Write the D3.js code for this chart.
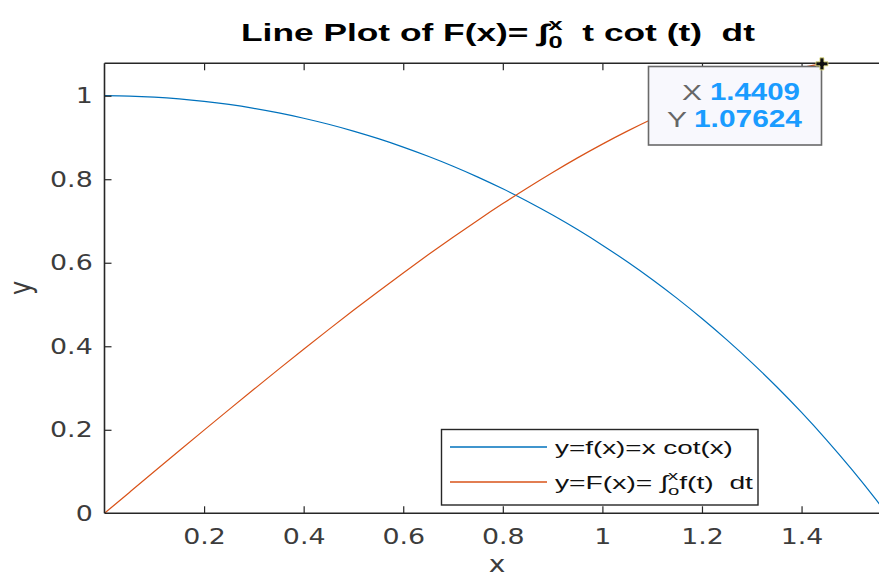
<!DOCTYPE html>
<html>
<head>
<meta charset="utf-8">
<script src="https://cdn.jsdelivr.net/npm/d3@7/dist/d3.min.js"></script>
<style>
body{margin:0;background:#fff}
svg{display:block}
text{white-space:pre}
</style>
</head>
<body>
<svg width="879" height="578"></svg>
<script>
// values
var xs = [0, 0.05, 0.1, 0.15, 0.2, 0.25, 0.3, 0.35, 0.4, 0.45, 0.5, 0.55, 0.6, 0.65, 0.7, 0.75,
          0.8, 0.85, 0.9, 0.95, 1.0, 1.05, 1.1, 1.15, 1.2, 1.25, 1.3, 1.35, 1.4, 1.45, 1.5, 1.55, 1.5708];
var fVals = [1, 0.9992, 0.9967, 0.9925, 0.9866, 0.9791, 0.9698, 0.9588, 0.9461, 0.9316, 0.9152, 0.8971,
             0.8770, 0.8550, 0.8311, 0.8051, 0.7770, 0.7467, 0.7142, 0.6794, 0.6421, 0.6023, 0.5599,
             0.5147, 0.4665, 0.4153, 0.3609, 0.3030, 0.2415, 0.1760, 0.1064, 0.0322, 0];
var FVals = [0, 0.0500, 0.0999, 0.1496, 0.1991, 0.2483, 0.2970, 0.3452, 0.3928, 0.4398, 0.4860, 0.5313,
             0.5756, 0.6190, 0.6611, 0.7020, 0.7416, 0.7797, 0.8162, 0.8511, 0.8841, 0.9152, 0.9443,
             0.9712, 0.9957, 1.0178, 1.0372, 1.0538, 1.0674, 1.0779, 1.0850, 1.0885, 1.0888];

var xTicks = [0.2, 0.4, 0.6, 0.8, 1, 1.2, 1.4];
var xTickLabels = ["0.2", "0.4", "0.6", "0.8", "1", "1.2", "1.4"];
var yTicks = [0, 0.2, 0.4, 0.6, 0.8, 1];
var yTickLabels = ["0", "0.2", "0.4", "0.6", "0.8", "1"];

var tipX = 1.4409, tipY = 1.07624;
var tipLabels = ["1.4409", "1.07624"];

var svg = d3.select("svg");
var SX = 1.22; // the picture is stretched sideways a bit
var tickFont = '"DejaVu Sans", sans-serif';
var textFont = '"Liberation Sans", Arial, sans-serif';

var x = d3.scaleLinear().domain([0, 1.5708]).range([104.5, 886.6]);
var y = d3.scaleLinear().domain([0, 1.0776]).range([513.3, 63.3]);

svg.append("clipPath").attr("id", "plotclip")
  .append("rect")
  .attr("x", x.range()[0]).attr("y", y.range()[1])
  .attr("width", x.range()[1] - x.range()[0])
  .attr("height", y.range()[0] - y.range()[1]);

// curves
var pts = xs.map(function(d, i){ return {x: d, f: fVals[i], F: FVals[i]}; });
var lineF = d3.line().x(function(d){ return x(d.x); }).y(function(d){ return y(d.f); }).curve(d3.curveMonotoneX);
var lineFF = d3.line().x(function(d){ return x(d.x); }).y(function(d){ return y(d.F); }).curve(d3.curveMonotoneX);

var plot = svg.append("g").attr("clip-path", "url(#plotclip)");
plot.append("path").attr("d", lineF(pts)).attr("fill", "none")
  .attr("stroke", "#0072BD").attr("stroke-width", 1.2);
plot.append("path").attr("d", lineFF(pts)).attr("fill", "none")
  .attr("stroke", "#D95319").attr("stroke-width", 1.2);

// axes
var axColor = "#262626";
var gx = svg.append("g").attr("transform", "translate(0," + y.range()[0] + ")")
  .call(d3.axisBottom(x).tickValues(xTicks)
    .tickFormat(function(d, i){ return xTickLabels[i]; })
    .tickSizeInner(-7).tickSizeOuter(0).tickPadding(15));
var gxt = svg.append("g").attr("transform", "translate(0," + y.range()[1] + ")")
  .call(d3.axisTop(x).tickValues(xTicks).tickFormat("")
    .tickSizeInner(-7).tickSizeOuter(0));
var gy = svg.append("g").attr("transform", "translate(" + x.range()[0] + ",0)")
  .call(d3.axisLeft(y).tickValues(yTicks)
    .tickFormat(function(d, i){ return yTickLabels[i]; })
    .tickSizeInner(-7).tickSizeOuter(0).tickPadding(12));

[gx, gxt, gy].forEach(function(g){
  g.select(".domain").remove();
  g.selectAll("line").attr("stroke", axColor).attr("stroke-width", 1.2);
  g.selectAll("text").attr("fill", "#3c3c3c").attr("font-size", 22)
    .attr("font-family", tickFont);
});
gx.selectAll("text").attr("transform", "scale(" + SX + ",1)");
gy.selectAll("text").attr("x", -11.8 / SX).attr("transform", "scale(" + SX + ",1)");
gy.selectAll(".tick").filter(function(d){ return d === 0; }).select("line").remove();

var frame = svg.append("g").attr("stroke", axColor).attr("stroke-width", 1.6);
frame.append("line").attr("x1", x.range()[0]).attr("x2", x.range()[0])
  .attr("y1", y.range()[1]).attr("y2", y.range()[0]);
frame.append("line").attr("x1", x.range()[0]).attr("x2", 879)
  .attr("y1", y.range()[0]).attr("y2", y.range()[0]);
frame.append("line").attr("x1", x.range()[0]).attr("x2", 879)
  .attr("y1", y.range()[1]).attr("y2", y.range()[1]);

// axis labels
svg.append("text").attr("transform", "translate(497,572) scale(" + SX + ",1)")
  .attr("text-anchor", "middle").attr("font-family", tickFont).attr("font-size", 23)
  .attr("fill", "#3c3c3c").text("x");
svg.append("text").attr("transform", "translate(31,288) rotate(-90) scale(1," + SX + ")")
  .attr("text-anchor", "middle").attr("font-family", tickFont).attr("font-size", 24)
  .attr("fill", "#3c3c3c").text("y");

// text with an integral sign carrying stacked limits
function rich(parent, parts, size, weight, fill){
  var g = parent.append("g"), cx = 0;
  parts.forEach(function(p){
    if (p.t != null) {
      var t = g.append("text").attr("x", cx).attr("font-size", size * (p.k || 1))
        .attr("font-weight", weight).attr("font-family", textFont).attr("fill", fill).text(p.t);
      cx += t.node().getComputedTextLength();
    } else {
      var s = size * 0.72;
      var a = g.append("text").attr("x", cx).attr("y", -size * 0.5).attr("font-size", s)
        .attr("font-weight", weight).attr("font-family", textFont).attr("fill", fill).text(p.sup);
      var b = g.append("text").attr("x", cx).attr("y", size * 0.3).attr("font-size", s)
        .attr("font-weight", weight).attr("font-family", textFont).attr("fill", fill).text(p.sub);
      cx += Math.max(a.node().getComputedTextLength(), b.node().getComputedTextLength());
    }
  });
  return {g: g, w: cx};
}
function place(r, left, base, width){
  r.g.attr("transform", "translate(" + left + "," + base + ") scale(" + (width / r.w) + ",1)");
}

// title
var title = rich(svg, [{t: "Line Plot of F(x)= "}, {t: "\u222B", k: 1.05}, {sup: "x", sub: "0"},
                       {t: "  t cot (t)  dt"}], 23, "bold", "#000");
place(title, 241, 41, 514);

// legend
var leg = svg.append("g");
leg.append("rect").attr("x", 441.5).attr("y", 429.5).attr("width", 316.5).attr("height", 75.5)
  .attr("fill", "#fff").attr("stroke", axColor).attr("stroke-width", 1.4);
leg.append("line").attr("x1", 450).attr("x2", 547).attr("y1", 447).attr("y2", 447)
  .attr("stroke", "#0072BD").attr("stroke-width", 1.4);
leg.append("line").attr("x1", 450).attr("x2", 547).attr("y1", 482).attr("y2", 482)
  .attr("stroke", "#D95319").attr("stroke-width", 1.4);
place(rich(leg, [{t: "y=f(x)=x cot(x)"}], 19, "normal", "#111"), 555, 454, 178);
place(rich(leg, [{t: "y=F(x)= "}, {t: "\u222B"}, {sup: "x", sub: "o"}, {t: "f(t)  dt"}], 19, "normal", "#111"),
      555, 489, 198);

// data tip
var tip = svg.append("g");
tip.append("rect").attr("x", 648.5).attr("y", 66.5).attr("width", 173).attr("height", 78.5)
  .attr("fill", "#f8f8fd").attr("stroke", "#6a6a6a").attr("stroke-width", 1.6);
tip.append("path").attr("transform", "translate(" + x(tipX) + "," + y(tipY) + ")")
  .attr("d", d3.symbol(d3.symbolCross, 80)())
  .attr("fill", "#111").attr("stroke", "#e8e47a").attr("stroke-width", 0.8);
function tipRow(label, value, base, lx, vx, vw){
  var a = rich(tip, [{t: label}], 23, "normal", "#666");
  place(a, lx, base, 20);
  var b = rich(tip, [{t: value}], 23, "bold", "#1a9cff");
  place(b, vx, base, vw);
}
tipRow("X", tipLabels[0], 100, 682, 710, 90);
tipRow("Y", tipLabels[1], 127, 667, 694, 108);
</script>
</body>
</html>
